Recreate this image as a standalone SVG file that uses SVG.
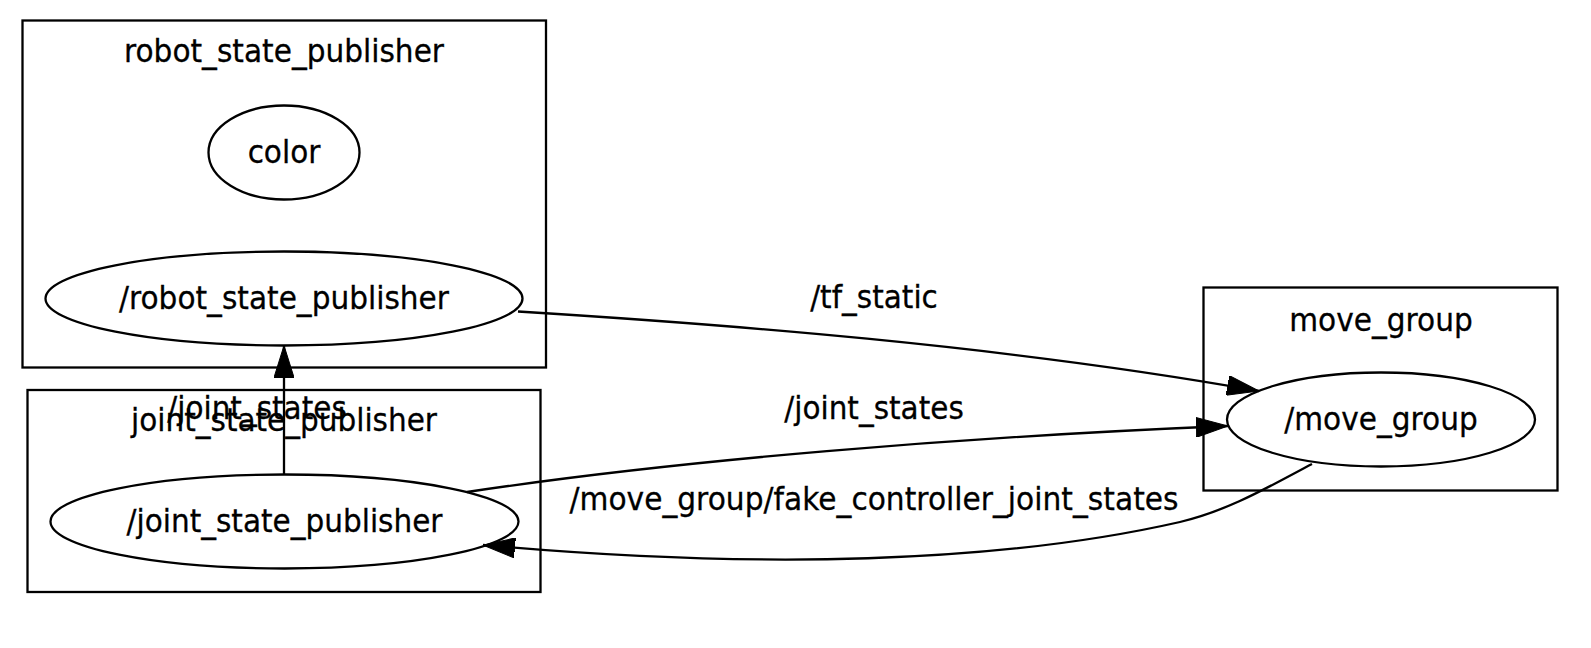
<svg xmlns="http://www.w3.org/2000/svg" width="1591" height="648" viewBox="0 0 1591 648">
<style>
  .cl { fill: none; stroke: #000; stroke-width: 2.3; }
  .nd { fill: #fff; stroke: #000; stroke-width: 2.3; }
  .ed { fill: none; stroke: #000; stroke-width: 2.3; }
  text { font-family: "DejaVu Sans", sans-serif; font-size: 32px; fill: #000; text-anchor: middle; stroke: #000; stroke-width: 0.3; }
</style>
<defs>
  <marker id="arr" viewBox="0 0 32 20" refX="32" refY="10" markerWidth="32" markerHeight="20" markerUnits="userSpaceOnUse" orient="auto">
    <path d="M0,0 L32,10 L0,20 Z" fill="#000" stroke="#000" stroke-width="1"/>
  </marker>
</defs>
<rect width="1591" height="648" fill="#fff"/>

<g id="cluster_robot_state_publisher">
  <rect class="cl" x="22.5" y="20.5" width="523.5" height="347"/>
  <text x="284" y="61.5" textLength="320" lengthAdjust="spacingAndGlyphs">robot_state_publisher</text>
</g>
<g id="cluster_joint_state_publisher">
  <rect class="cl" x="27.5" y="390" width="513" height="202"/>
  <text x="284" y="430.5" textLength="306" lengthAdjust="spacingAndGlyphs">joint_state_publisher</text>
</g>
<g id="cluster_move_group">
  <rect class="cl" x="1203.5" y="287.5" width="354" height="203"/>
  <text x="1381" y="330.5" textLength="183.5" lengthAdjust="spacingAndGlyphs">move_group</text>
</g>

<g id="node_color">
  <ellipse class="nd" cx="284" cy="152.5" rx="75.5" ry="47"/>
  <text x="284" y="163" textLength="72.7" lengthAdjust="spacingAndGlyphs">color</text>
</g>
<g id="node_robot_state_publisher">
  <ellipse class="nd" cx="284" cy="298.5" rx="238.5" ry="47"/>
  <text x="284" y="309" textLength="330" lengthAdjust="spacingAndGlyphs">/robot_state_publisher</text>
</g>
<g id="node_joint_state_publisher">
  <ellipse class="nd" cx="284.5" cy="521.5" rx="234" ry="47"/>
  <text x="284.5" y="532" textLength="316" lengthAdjust="spacingAndGlyphs">/joint_state_publisher</text>
</g>
<g id="node_move_group">
  <ellipse class="nd" cx="1381" cy="419.5" rx="154" ry="47"/>
  <text x="1381" y="430" textLength="193.4" lengthAdjust="spacingAndGlyphs">/move_group</text>
</g>

<g id="connectors">
  <path class="ed" d="M518,311.5 C720,324 1000,345 1259,391" marker-end="url(#arr)"/>
  <text x="874" y="307.5" textLength="127.6" lengthAdjust="spacingAndGlyphs">/tf_static</text>
  <path class="ed" d="M467,492 C680,460 960,437 1228,426" marker-end="url(#arr)"/>
  <text x="874" y="418.5" textLength="179.5" lengthAdjust="spacingAndGlyphs">/joint_states</text>
  <path class="ed" d="M284,474.5 L284,345.5" marker-end="url(#arr)"/>
  <text x="257" y="419" textLength="179.5" lengthAdjust="spacingAndGlyphs">/joint_states</text>
  <path class="ed" d="M1312,464 C1270,486 1230,510 1180,522 C1000,563 760,570 483,545" marker-end="url(#arr)"/>
  <text x="874" y="509.5" textLength="609" lengthAdjust="spacingAndGlyphs">/move_group/fake_controller_joint_states</text>
</g>
</svg>
